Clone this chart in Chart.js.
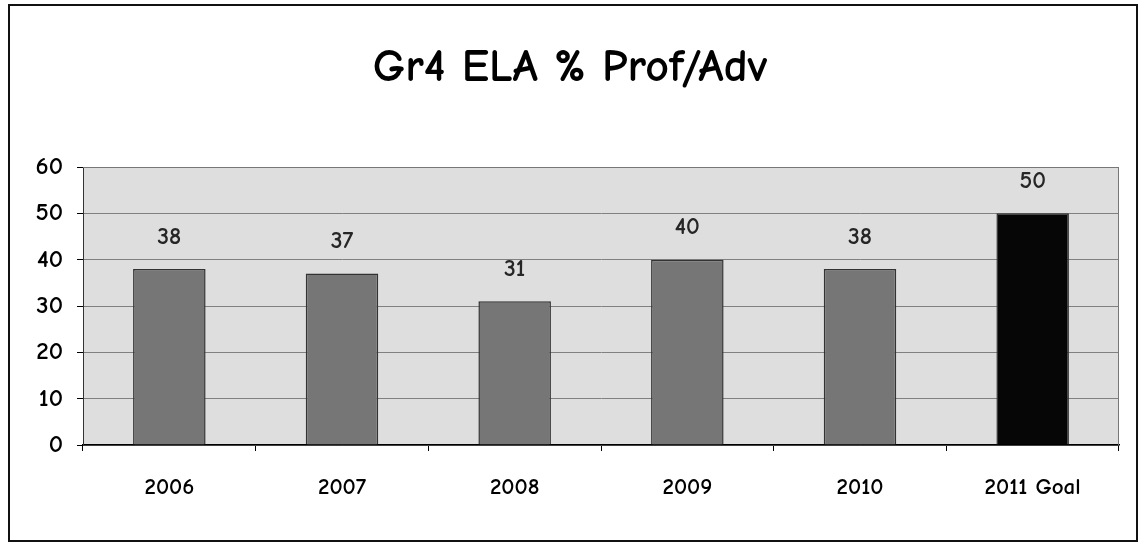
<!DOCTYPE html>
<html>
<head>
<meta charset="utf-8">
<script src="https://cdn.jsdelivr.net/npm/chart.js@4/dist/chart.umd.min.js"></script>
<style>
html,body{margin:0;padding:0;background:#fff;}
#wrap{position:relative;width:1139px;height:544px;}
</style>
</head>
<body>
<div id="wrap"><canvas id="c" width="1139" height="544"></canvas></div>
<script>
const titleText = "Gr4 ELA % Prof/Adv";
const categories = ["2006", "2007", "2008", "2009", "2010", "2011 Goal"];
const values = [38, 37, 31, 40, 38, 50];
const barColors = ["#767676", "#767676", "#767676", "#767676", "#767676", "#060606"];
const yTicks = [0, 10, 20, 30, 40, 50, 60];

const FONT = '"Comic Sans MS", "Comic Neue", "Open Sans", sans-serif';

const decor = {
  id: 'decor',
  beforeDraw(chart) {
    const {ctx, chartArea: a} = chart;
    ctx.save();
    ctx.fillStyle = '#dedede';
    ctx.fillRect(a.left, a.top, a.right - a.left, a.bottom - a.top);
    ctx.restore();
  },
  afterDraw(chart) {
    const {ctx, chartArea: a} = chart;
    ctx.save();
    ctx.strokeStyle = '#777';
    ctx.lineWidth = 1;
    ctx.beginPath();
    ctx.moveTo(a.left, a.top + 0.5);
    ctx.lineTo(a.right - 0.5, a.top + 0.5);
    ctx.lineTo(a.right - 0.5, a.bottom);
    ctx.stroke();
    ctx.strokeStyle = '#111';
    ctx.lineWidth = 2;
    ctx.strokeRect(9, 5, 1128, 536);
    ctx.fillStyle = '#000';
    ctx.font = 'bold 46px ' + FONT;
    ctx.textAlign = 'center';
    ctx.textBaseline = 'middle';
    ctx.fillText(titleText, 570, 68);
    ctx.restore();
  },
  afterDatasetsDraw(chart) {
    const {ctx} = chart;
    const meta = chart.getDatasetMeta(0);
    ctx.save();
    ctx.fillStyle = '#262626';
    ctx.font = 'bold 24px ' + FONT;
    ctx.textAlign = 'center';
    ctx.textBaseline = 'middle';
    meta.data.forEach((bar, i) => {
      ctx.fillText(String(values[i]), bar.x, bar.y - 32);
    });
    ctx.restore();
  }
};

new Chart(document.getElementById('c'), {
  type: 'bar',
  data: {
    labels: categories,
    datasets: [{
      data: values,
      backgroundColor: barColors,
      borderColor: '#333',
      borderWidth: 1.5,
      categoryPercentage: 1,
      barPercentage: 0.42
    }]
  },
  options: {
    responsive: false,
    animation: false,
    devicePixelRatio: 1,
    layout: { padding: { top: 167, right: 20, left: 0, bottom: 0 } },
    plugins: { legend: { display: false }, title: { display: false }, tooltip: { enabled: false } },
    scales: {
      x: {
        offset: true,
        grid: { offset: true, drawOnChartArea: false, drawTicks: true, tickLength: 6, color: '#000' },
        border: { display: true, color: '#000', width: 1.5 },
        ticks: { color: '#000', font: { family: FONT, size: 23, weight: 'bold' }, padding: 23, maxRotation: 0 },
        afterFit(s) { s.height = 99; }
      },
      y: {
        min: 0, max: 60,
        afterBuildTicks(s) { s.ticks = yTicks.map(v => ({ value: v })); },
        grid: { color: '#808080', lineWidth: 1, tickLength: 6, tickColor: '#000' },
        border: { display: true, color: '#333', width: 1 },
        ticks: { color: '#000', font: { family: FONT, size: 25, weight: 'bold' }, padding: 14 },
        afterFit(s) { s.width = 83; }
      }
    }
  },
  plugins: [decor]
});
</script>
</body>
</html>
